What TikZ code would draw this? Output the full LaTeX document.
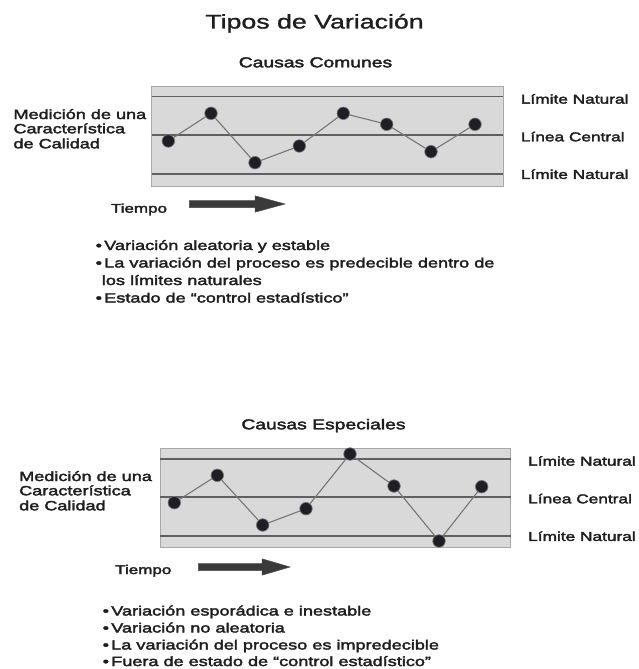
\documentclass[tikz,border=0pt]{standalone}
\usepackage{fontspec}
\setmainfont{Liberation Sans}[FakeStretch=1.35,FakeBold=1.2]
\newfontfamily\labfont{Liberation Sans}[FakeStretch=1.35,FakeBold=2.6]
\definecolor{ink}{HTML}{1E1E1E}
\definecolor{panel}{HTML}{D9D9D9}
\definecolor{rim}{HTML}{A8A8A8}
\definecolor{rule}{HTML}{606060}
\definecolor{trace}{HTML}{767676}
\definecolor{dot}{HTML}{1E1E24}
\definecolor{arrowfill}{HTML}{3A3A3A}

\begin{document}
\begin{tikzpicture}[x=1pt,y=-1pt,
  chartbox/.style={draw=rim, fill=panel, line width=0.8pt},
  limitline/.style={draw=rule, line width=1.4pt},
  datadot/.style={circle, fill=dot, draw=black!55, line width=0.7pt, minimum size=12.5pt, inner sep=0pt},
  traceline/.style={draw=trace, line width=1.1pt},
  titletext/.style={font=\fontsize{19.8}{22}\selectfont, text=ink, inner sep=0pt, anchor=base},
  subtext/.style={font=\labfont\fontsize{14.3}{16}\selectfont, text=ink, inner sep=0pt, anchor=base},
  lefttext/.style={font=\labfont\fontsize{13.4}{14.5}\selectfont, text=ink, inner sep=0pt, anchor=base west},
  righttext/.style={font=\labfont\fontsize{12.8}{14}\selectfont, text=ink, inner sep=0pt, anchor=base west},
  timetext/.style={font=\labfont\fontsize{12.6}{14}\selectfont, text=ink, inner sep=0pt, anchor=base},
  bullettext/.style={font=\labfont\fontsize{13.4}{16}\selectfont, text=ink, inner sep=0pt, anchor=base west},
  blockarrow/.style={fill=arrowfill, draw=black!70, line width=0.5pt}
]
\useasboundingbox (0,0) rectangle (639,669);
\fill[white] (0,0) rectangle (639,669);

% ---------- heading ----------
\node[titletext] (title) at (314.5,28.5) {Tipos de Variación};

% ---------- common causes chart ----------
\node[subtext] (subA) at (315.5,67.3) {Causas Comunes};
\draw[chartbox] (151.7,86) rectangle (503,186);
\draw[limitline] (151.7,96.7) -- (503,96.7);
\draw[limitline] (151.7,135) -- (503,135);
\draw[limitline] (151.7,174) -- (503,174);

\node[lefttext] (measA1) at (13.3,119) {Medición de una};
\node[lefttext] (measA2) at (13.3,133.3) {Característica};
\node[lefttext] (measA3) at (13.3,148.3) {de Calidad};

\node[righttext] (limA1) at (520.7,103.6) {Límite Natural};
\node[righttext] (cenA) at (520.7,141.3) {Línea Central};
\node[righttext] (limA2) at (520.7,178.9) {Límite Natural};

\node[datadot] (a1) at (168.3,141) {};
\node[datadot] (a2) at (211,113.3) {};
\node[datadot] (a3) at (255,162.7) {};
\node[datadot] (a4) at (299.3,146) {};
\node[datadot] (a5) at (343.3,113.3) {};
\node[datadot] (a6) at (386.7,124.3) {};
\node[datadot] (a7) at (431,151.7) {};
\node[datadot] (a8) at (475,124.3) {};
\draw[traceline] (a1) -- (a2) -- (a3) -- (a4) -- (a5) -- (a6) -- (a7) -- (a8);

\node[timetext] (timeA) at (139,212.7) {Tiempo};
\draw[blockarrow] (189.3,200.5) -- (255,200.5) -- (255,195.8) -- (285,204)
  -- (255,212.2) -- (255,207.5) -- (189.3,207.5) -- cycle;

\node[bullettext] (bA1) at (95.5,250) {•\,Variación aleatoria y estable};
\node[bullettext] (bA2) at (95.5,267.5) {•\,La variación del proceso es predecible dentro de};
\node[bullettext] (bA3) at (101.7,285) {los límites naturales};
\node[bullettext] (bA4) at (95.5,302.5) {•\,Estado de “control estadístico”};

% ---------- special causes chart ----------
\node[subtext] (subB) at (323.5,429.3) {Causas Especiales};
\draw[chartbox] (160,448) rectangle (510.7,547);
\draw[limitline] (160,459) -- (510.7,459);
\draw[limitline] (160,497) -- (510.7,497);
\draw[limitline] (160,536) -- (510.7,536);

\node[lefttext] (measB1) at (19,481) {Medición de una};
\node[lefttext] (measB2) at (19,495.3) {Característica};
\node[lefttext] (measB3) at (19,510.3) {de Calidad};

\node[righttext] (limB1) at (528,465.6) {Límite Natural};
\node[righttext] (cenB) at (528,503.3) {Línea Central};
\node[righttext] (limB2) at (528,540.9) {Límite Natural};

\node[datadot] (s1) at (174.3,502.7) {};
\node[datadot] (s2) at (217.3,475.3) {};
\node[datadot] (s3) at (262.7,525) {};
\node[datadot] (s4) at (306,508.7) {};
\node[datadot] (s5) at (350,454) {};
\node[datadot] (s6) at (394,486) {};
\node[datadot] (s7) at (439,541) {};
\node[datadot] (s8) at (481.7,486.7) {};
\draw[traceline] (s1) -- (s2) -- (s3) -- (s4) -- (s5) -- (s6) -- (s7) -- (s8);

\node[timetext] (timeB) at (143.3,574) {Tiempo};
\draw[blockarrow] (198.3,563.5) -- (262,563.5) -- (262,558.8) -- (290,567)
  -- (262,575.2) -- (262,570.5) -- (198.3,570.5) -- cycle;

\node[bullettext] (bB1) at (102.5,615.5) {•\,Variación esporádica e inestable};
\node[bullettext] (bB2) at (102.5,632.5) {•\,Variación no aleatoria};
\node[bullettext] (bB3) at (102.5,649.5) {•\,La variación del proceso es impredecible};
\node[bullettext] (bB4) at (102.5,666) {•\,Fuera de estado de “control estadístico”};
\end{tikzpicture}
\end{document}
